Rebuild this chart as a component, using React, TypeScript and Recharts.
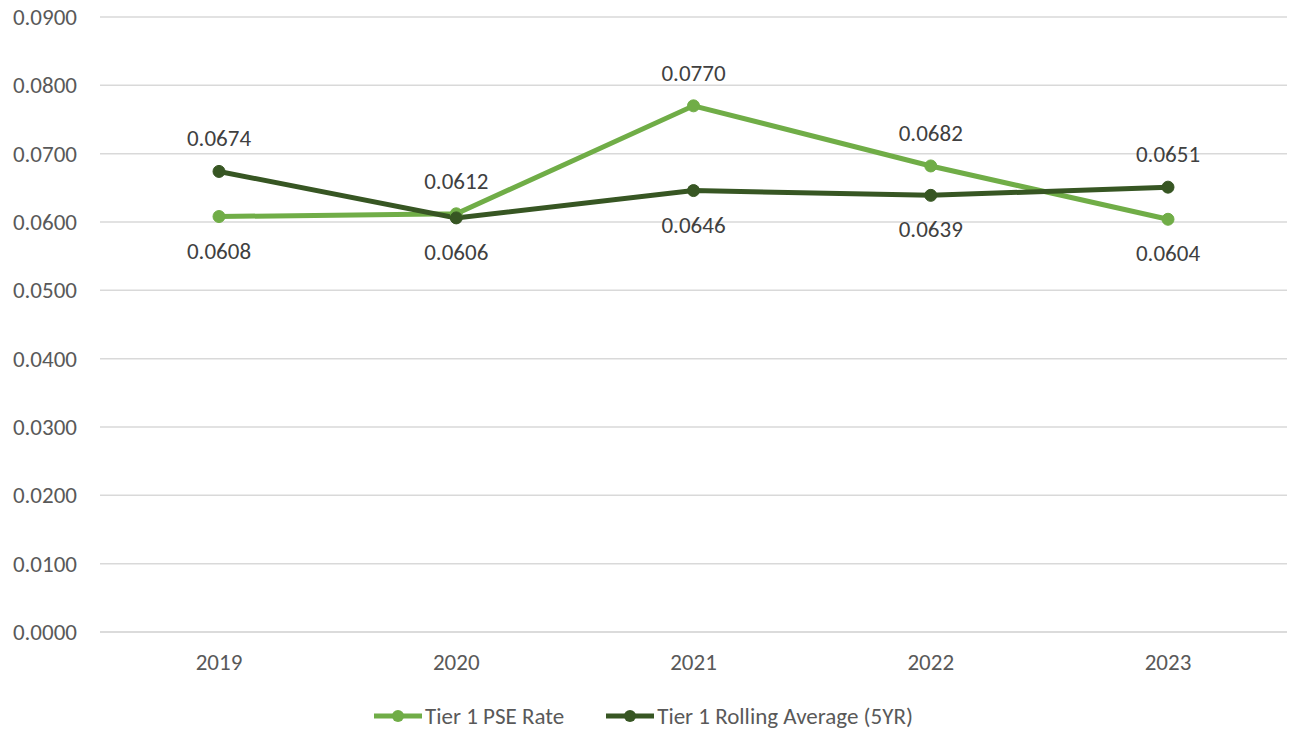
import { CartesianGrid, LabelList, Legend, Line, LineChart, XAxis, YAxis } from 'recharts';

const years = ['2019', '2020', '2021', '2022', '2023'];
const pseRate = [0.0608, 0.0612, 0.077, 0.0682, 0.0604];
const rollingAvg = [0.0674, 0.0606, 0.0646, 0.0639, 0.0651];
const yTicks = [0, 0.01, 0.02, 0.03, 0.04, 0.05, 0.06, 0.07, 0.08, 0.09];

const data = years.map((year, i) => ({ year, pse: pseRate[i], rolling: rollingAvg[i] }));

const FONT = 'Carlito, Calibri, Lato, sans-serif';
const FS = 23;
const GREEN = '#70AD47';
const DARK = '#375623';

// put the label on the side away from the other series
const makeLabel = (own: number[], other: number[]) => (props: any) => {
  const { x, y, index } = props;
  const above = own[index] > other[index];
  return (
    <text
      x={x}
      y={above ? y - 33 : y + 34}
      textAnchor="middle"
      dominantBaseline="central"
      fill="#404040"
      fontSize={FS}
      fontFamily={FONT}
    >
      {own[index].toFixed(4)}
    </text>
  );
};

const legendItems = [
  { name: 'Tier 1 PSE Rate', color: GREEN },
  { name: 'Tier 1 Rolling Average (5YR)', color: DARK },
];

function ChartLegend() {
  return (
    <div
      style={{
        display: 'flex',
        justifyContent: 'center',
        gap: 42,
        fontFamily: FONT,
        fontSize: FS,
        color: '#595959',
        paddingTop: 10,
      }}
    >
      {legendItems.map((item) => (
        <div key={item.name} style={{ display: 'flex', alignItems: 'center' }}>
          <svg width={48} height={16} style={{ marginRight: 3 }}>
            <line x1={0} y1={8} x2={48} y2={8} stroke={item.color} strokeWidth={5} />
            <circle cx={24} cy={8} r={6} fill={item.color} />
          </svg>
          <span>{item.name}</span>
        </div>
      ))}
    </div>
  );
}

export default function App() {
  return (
    <div style={{ position: 'absolute', left: 0, top: 0, background: '#fff' }}>
      <LineChart width={1291} height={732} data={data} margin={{ top: 17, right: 4, left: 0, bottom: 0 }}>
        <CartesianGrid vertical={false} stroke="#d9d9d9" strokeWidth={1.5} />
        <XAxis
          dataKey="year"
          height={60}
          padding={{ left: 119, right: 119 }}
          axisLine={{ stroke: '#d9d9d9', strokeWidth: 1.5 }}
          tickLine={false}
          tickSize={0}
          tickMargin={22}
          tick={{ fill: '#595959', fontSize: FS, fontFamily: FONT }}
        />
        <YAxis
          width={100}
          domain={[0, 0.09]}
          ticks={yTicks}
          interval={0}
          axisLine={false}
          tickLine={false}
          tickSize={0}
          tickMargin={23}
          tickFormatter={(v: number) => v.toFixed(4)}
          tick={{ fill: '#595959', fontSize: FS, fontFamily: FONT }}
        />
        <Legend verticalAlign="bottom" height={40} content={() => <ChartLegend />} />
        <Line
          dataKey="pse"
          name="Tier 1 PSE Rate"
          stroke={GREEN}
          strokeWidth={5}
          dot={{ r: 6, fill: GREEN, stroke: GREEN, strokeWidth: 1 }}
          isAnimationActive={false}
        >
          <LabelList dataKey="pse" content={makeLabel(pseRate, rollingAvg)} />
        </Line>
        <Line
          dataKey="rolling"
          name="Tier 1 Rolling Average (5YR)"
          stroke={DARK}
          strokeWidth={5}
          dot={{ r: 6, fill: DARK, stroke: DARK, strokeWidth: 1 }}
          isAnimationActive={false}
        >
          <LabelList dataKey="rolling" content={makeLabel(rollingAvg, pseRate)} />
        </Line>
      </LineChart>
    </div>
  );
}
